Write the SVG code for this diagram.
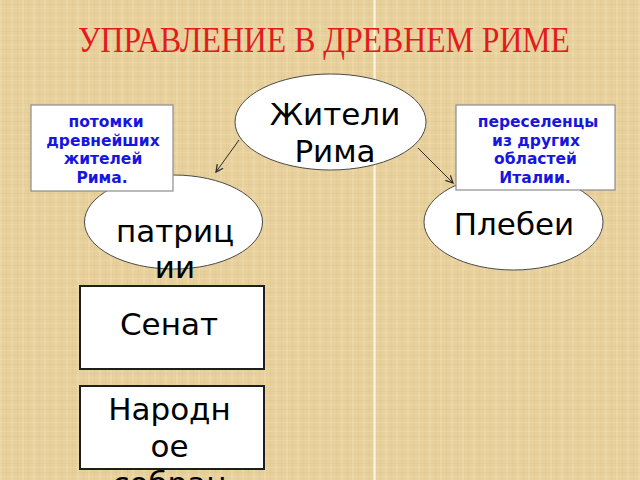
<svg xmlns="http://www.w3.org/2000/svg" width="640" height="480" viewBox="0 0 640 480">
  <defs>
    <pattern id="weave" width="11" height="9" patternUnits="userSpaceOnUse">
      <rect width="11" height="9" fill="#E7D09B"/>
      <rect x="0" y="0" width="2" height="9" fill="#EFDCAC" opacity="0.55"/>
      <rect x="6" y="0" width="1" height="9" fill="#DCC28A" opacity="0.35"/>
      <rect x="0" y="4" width="11" height="1" fill="#DDC48D" opacity="0.3"/>
      <rect x="0" y="8" width="11" height="1" fill="#F0DFB2" opacity="0.35"/>
    </pattern>
    <marker id="arrow" viewBox="0 0 10 10" refX="9" refY="5" markerWidth="9" markerHeight="9" orient="auto" markerUnits="userSpaceOnUse">
      <path d="M1,1 L9,5 L1,9" fill="none" stroke="#2A2A2A" stroke-width="1.4"/>
    </marker>
  </defs>
  <style>
    .main { font-family: "DejaVu Sans", "Noto Sans", sans-serif; font-size: 31px; fill: #000; text-anchor: middle; }
    .note { font-family: "DejaVu Sans", "Noto Sans", sans-serif; font-size: 15.5px; font-weight: bold; fill: #1616E0; text-anchor: middle; }
    .oval { fill: #FFFFFF; stroke: #4A4A4A; stroke-width: 1; }
    .notebox { fill: #FFFFFF; stroke: #8C8C8C; stroke-width: 1.2; }
    .box { fill: #FFFFFF; stroke: #1E1E1E; stroke-width: 2; }
    .conn { fill: none; stroke: #2A2A2A; stroke-width: 1; marker-end: url(#arrow); }
  </style>

  <rect width="640" height="480" fill="url(#weave)"/>
  <rect x="373.5" y="0" width="2" height="480" fill="#FFF9EA" opacity="0.9"/>

  <text x="324" y="52" font-family="'Liberation Serif', 'DejaVu Serif', serif" font-size="35" fill="#E31B1B" text-anchor="middle" textLength="492" lengthAdjust="spacingAndGlyphs">УПРАВЛЕНИЕ В ДРЕВНЕМ РИМЕ</text>

  <g id="node-residents">
    <ellipse class="oval" cx="330.5" cy="122" rx="95.5" ry="48"/>
    <text class="main" x="335" y="125">Жители</text>
    <text class="main" x="335" y="162">Рима</text>
  </g>

  <g id="connectors">
    <line class="conn" x1="239" y1="140" x2="216" y2="172"/>
    <line class="conn" x1="418" y1="148" x2="453" y2="183"/>
  </g>

  <g id="node-patricians">
    <ellipse class="oval" cx="173.5" cy="222" rx="89" ry="47"/>
    <text class="main" x="175" y="242">патриц</text>
    <text class="main" x="175" y="278">ии</text>
  </g>

  <g id="node-plebeians">
    <ellipse class="oval" cx="513.5" cy="222" rx="89.5" ry="48"/>
    <text class="main" x="514" y="235">Плебеи</text>
  </g>

  <g id="note-patricians">
    <rect class="notebox" x="31" y="105" width="142" height="86"/>
    <text class="note" x="106" y="127">потомки</text>
    <text class="note" x="103" y="145.5">древнейших</text>
    <text class="note" x="103" y="164">жителей</text>
    <text class="note" x="102" y="182.5">Рима.</text>
  </g>

  <g id="note-plebeians">
    <rect class="notebox" x="456" y="105" width="159" height="85"/>
    <text class="note" x="538" y="127">переселенцы</text>
    <text class="note" x="536" y="145.5">из других</text>
    <text class="note" x="535.5" y="164">областей</text>
    <text class="note" x="535" y="182.5">Италии.</text>
  </g>

  <g id="node-senate">
    <rect class="box" x="80" y="286" width="184" height="83"/>
    <text class="main" x="169" y="335">Сенат</text>
  </g>

  <g id="node-assembly">
    <rect class="box" x="80" y="386" width="184" height="83"/>
    <text class="main" x="169.5" y="420">Народн</text>
    <text class="main" x="169.5" y="457">ое</text>
    <text class="main" x="169.5" y="494">собран</text>
  </g>
</svg>
